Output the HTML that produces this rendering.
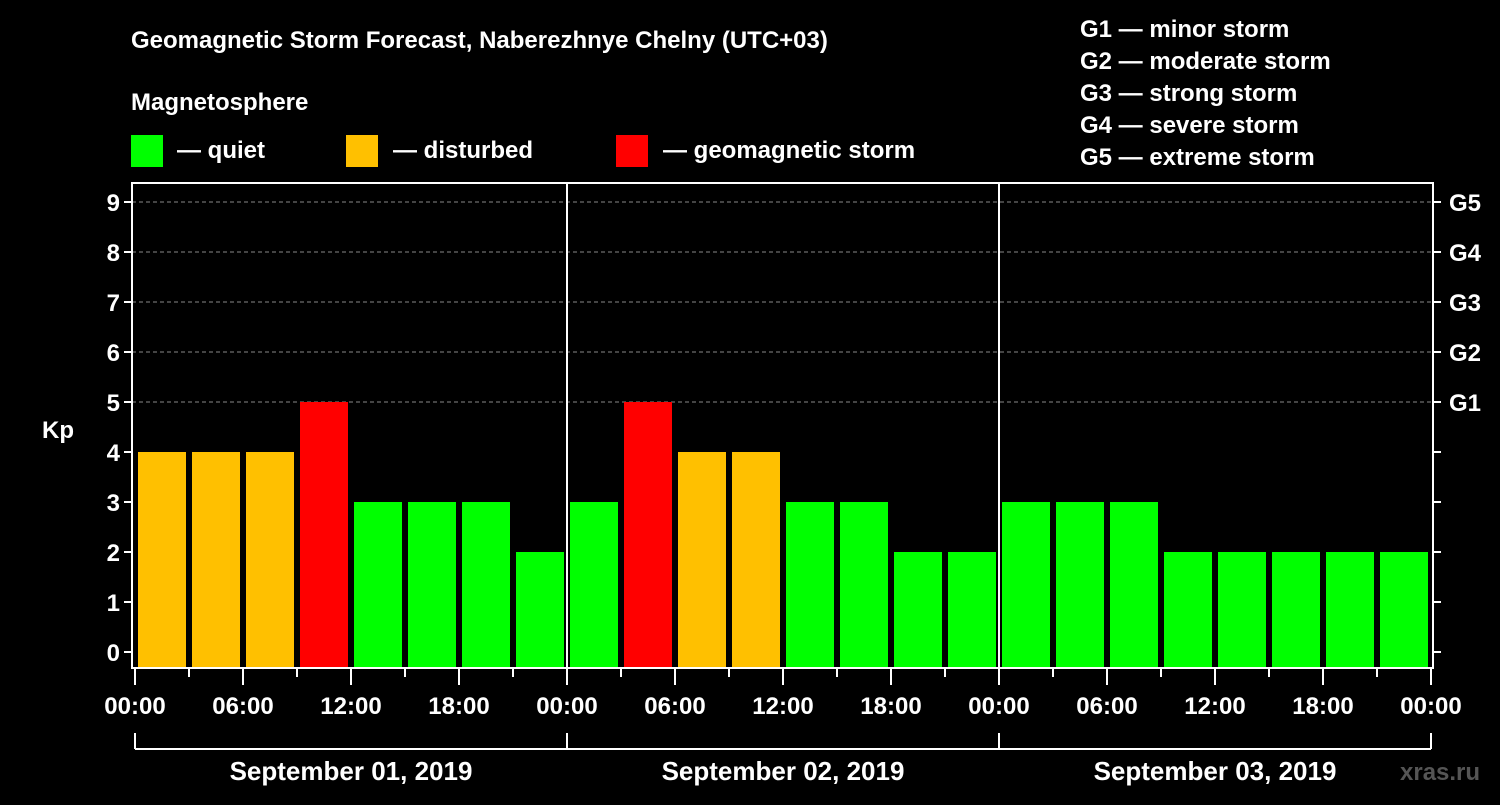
<!DOCTYPE html>
<html><head><meta charset="utf-8"><style>
body{margin:0;background:#000;width:1500px;height:800px;overflow:hidden}
svg text{font-family:"Liberation Sans",Arial,sans-serif;font-weight:bold;fill:#fff}
</style></head><body>
<svg id="c" width="1500" height="800">
<text x="131" y="48" font-size="24">Geomagnetic Storm Forecast, Naberezhnye Chelny (UTC+03)</text>
<text x="131" y="110" font-size="24">Magnetosphere</text>
<rect x="131" y="135" width="32" height="32" fill="#00ff00"/>
<text x="177" y="158" font-size="24">— quiet</text>
<rect x="346" y="135" width="32" height="32" fill="#ffc000"/>
<text x="393" y="158" font-size="24">— disturbed</text>
<rect x="616" y="135" width="32" height="32" fill="#ff0000"/>
<text x="663" y="158" font-size="24">— geomagnetic storm</text>
<g font-size="24">
<text x="1080" y="37">G1 — minor storm</text>
<text x="1080" y="69">G2 — moderate storm</text>
<text x="1080" y="101">G3 — strong storm</text>
<text x="1080" y="133">G4 — severe storm</text>
<text x="1080" y="165">G5 — extreme storm</text>
</g>
<text x="42" y="438" font-size="24">Kp</text>
<text x="1400" y="780" font-size="24" fill="#555" style="fill:#555">xras.ru</text>
<g id="plot"></g>
</svg>
<script>
const kpValues=[4,4,4,5,3,3,3,2, 3,5,4,4,3,3,2,2, 3,3,3,2,2,2,2,2];
const dayLabels=["September 01, 2019","September 02, 2019","September 03, 2019"];
const timeLabels=["00:00","06:00","12:00","18:00"];
const gLabels=["G1","G2","G3","G4","G5"];
const yTicks=[0,1,2,3,4,5,6,7,8,9];
const NS="http://www.w3.org/2000/svg";
const g=document.getElementById("plot");
const X0=135,SLOT=54,L=132,R=1433,T=183,B=668;
const x=i=>X0+i*SLOT;
const y=v=>652-v*50;
function mk(t,a){const e=document.createElementNS(NS,t);for(const k in a)e.setAttribute(k,a[k]);g.appendChild(e);return e;}
function col(v){return v>=5?"#ff0000":v>=4?"#ffc000":"#00ff00";}
yTicks.forEach(v=>{
 if(v>=5){const l=mk("line",{x1:L,x2:R,y1:y(v),y2:y(v),stroke:"#888","stroke-dasharray":"4,3"});
 
 }
 mk("line",{x1:L-8,x2:L,y1:y(v),y2:y(v),stroke:"#fff","stroke-width":2});
 mk("line",{x1:R,x2:R+8,y1:y(v),y2:y(v),stroke:"#fff","stroke-width":2});
 const t=mk("text",{x:L-12,y:y(v)+9,"font-size":24,"text-anchor":"end"});t.textContent=v;
 
 
});
gLabels.forEach((s,i)=>{const t=mk("text",{x:1449,y:y(5+i)+9,"font-size":24});t.textContent=s;
 
 });
kpValues.forEach((v,i)=>{const r=mk("rect",{x:x(i)+3,y:y(v),width:48,height:B-y(v),fill:col(v)});
 
 });
mk("rect",{x:L,y:T,width:R-L,height:B-T,fill:"none",stroke:"#fff","stroke-width":2});
for(let d=1;d<dayLabels.length;d++)mk("line",{x1:x(d*8),x2:x(d*8),y1:T,y2:B,stroke:"#fff","stroke-width":2});
for(let i=0;i<=kpValues.length;i++){
 const major=i%2==0;
 mk("line",{x1:x(i),x2:x(i),y1:B,y2:B+(major?17:9),stroke:"#fff","stroke-width":2});
 if(major){const t=mk("text",{x:x(i),y:714,"font-size":24,"text-anchor":"middle"});t.textContent=timeLabels[(i/2)%4];
 
 }
}
mk("line",{x1:x(0),x2:x(24),y1:749,y2:749,stroke:"#fff","stroke-width":2});
for(let d=0;d<=dayLabels.length;d++)mk("line",{x1:x(d*8),x2:x(d*8),y1:733,y2:749,stroke:"#fff","stroke-width":2});
dayLabels.forEach((s,d)=>{const t=mk("text",{x:x(d*8+4),y:780,"font-size":26,"text-anchor":"middle"});t.textContent=s;
 
 });
</script>
</body></html>
